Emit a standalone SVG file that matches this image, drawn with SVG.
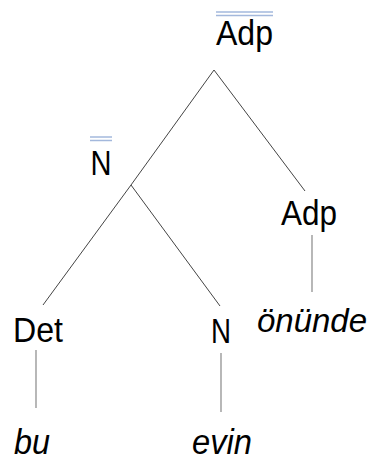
<svg xmlns="http://www.w3.org/2000/svg" width="370" height="460" viewBox="0 0 370 460">
<style>
.t{font-family:"Liberation Sans",Arial,sans-serif;font-size:35px;fill:#000;text-anchor:middle}
.i{font-style:italic}
.e{stroke:#444;stroke-width:1;fill:none}
.v{stroke:#888;stroke-width:1.2;fill:none}
.ov{stroke:#a3b8dc;stroke-width:1.5}
</style>
<rect width="370" height="460" fill="#fff"/>
<g id="connectors">
<line class="e" x1="214" y1="70" x2="131" y2="185"/>
<line class="e" x1="214" y1="70" x2="305" y2="191"/>
<line class="e" x1="131" y1="185" x2="43" y2="305"/>
<line class="e" x1="131" y1="185" x2="220" y2="306"/>
<line class="v" x1="312" y1="235" x2="312" y2="292"/>
<line class="v" x1="36" y1="350" x2="36" y2="408"/>
<line class="v" x1="221" y1="353" x2="221" y2="412"/>
</g>
<g id="adp-bar">
<line class="ov" x1="216" y1="12" x2="273" y2="12"/>
<line class="ov" x1="216" y1="15.5" x2="273" y2="15.5"/>
<text class="t" x="244.5" y="45" textLength="57" lengthAdjust="spacingAndGlyphs">Adp</text>
</g>
<g id="n-bar">
<line class="ov" x1="90" y1="137" x2="112" y2="137"/>
<line class="ov" x1="90" y1="140.5" x2="112" y2="140.5"/>
<text class="t" x="101" y="175" textLength="21" lengthAdjust="spacingAndGlyphs">N</text>
</g>
<g id="adp">
<text class="t" x="309" y="225" textLength="56" lengthAdjust="spacingAndGlyphs">Adp</text>
</g>
<g id="onunde">
<text class="t i" x="312" y="332" style="font-size:33px">önünde</text>
</g>
<g id="det">
<text class="t" x="38" y="342" textLength="50" lengthAdjust="spacingAndGlyphs">Det</text>
</g>
<g id="n">
<text class="t" x="221" y="343" textLength="20" lengthAdjust="spacingAndGlyphs">N</text>
</g>
<g id="bu">
<text class="t i" x="32" y="454" textLength="36" lengthAdjust="spacingAndGlyphs">bu</text>
</g>
<g id="evin">
<text class="t i" x="222" y="454" textLength="60" lengthAdjust="spacingAndGlyphs">evin</text>
</g>
</svg>
